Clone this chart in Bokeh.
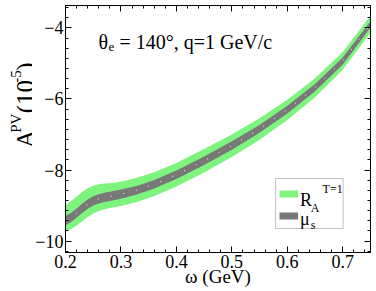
import numpy as np
from bokeh.plotting import figure
from bokeh.layouts import row
from bokeh.models import Range1d, FixedTicker, LinearAxis, Label, BoxAnnotation
from bokeh.core.properties import value
from bokeh.embed import file_html
from bokeh.resources import INLINE

# ---- data ----
omega = [0.20, 0.21, 0.22, 0.23, 0.24, 0.25, 0.26, 0.27, 0.28, 0.30,
         0.33, 0.36, 0.40, 0.45, 0.50, 0.55, 0.60, 0.65, 0.70, 0.75]
center = [-9.42, -9.33, -9.21, -9.08, -8.96, -8.87, -8.81, -8.77, -8.74, -8.68,
          -8.56, -8.40, -8.13, -7.74, -7.31, -6.84, -6.30, -5.68, -4.93, -3.90]
ra_hi = [-9.00, -8.88, -8.75, -8.62, -8.51, -8.44, -8.40, -8.38, -8.37, -8.33,
         -8.21, -8.06, -7.80, -7.41, -7.00, -6.54, -6.02, -5.42, -4.68, -3.66]
ra_lo = [-9.74, -9.66, -9.56, -9.44, -9.32, -9.22, -9.15, -9.10, -9.07, -9.01,
         -8.89, -8.73, -8.46, -8.07, -7.63, -7.15, -6.59, -5.95, -5.18, -4.13]
mus_hi = [-9.29, -9.20, -9.08, -8.95, -8.83, -8.74, -8.68, -8.64, -8.61, -8.55,
          -8.44, -8.28, -8.01, -7.62, -7.19, -6.73, -6.19, -5.58, -4.83, -3.81]
mus_lo = [-9.55, -9.46, -9.34, -9.21, -9.09, -9.00, -8.94, -8.90, -8.87, -8.81,
          -8.68, -8.52, -8.25, -7.86, -7.43, -6.95, -6.41, -5.78, -5.03, -3.99]

x_ticks = [0.2, 0.3, 0.4, 0.5, 0.6, 0.7]
y_ticks = [-10, -8, -6, -4]

GREEN = "#7DF47D"
GRAY = "#787878"
FONT = "Liberation Serif"

H = 291
LW = 32          # strip holding the rotated y-axis title
PW = 344

def dx(px):
    return 0.2 + (px - 58.3) / 566.7

def dy(py):
    return -4 - (py - 27.3) / 35.56

p = figure(width=PW, height=H,
           x_range=Range1d(0.2, 0.75), y_range=Range1d(-10.32, -3.37),
           output_backend="svg", toolbar_location=None,
           min_border_left=26, min_border_right=6,
           min_border_top=5, min_border_bottom=39)
p.grid.visible = False
p.outline_line_color = "black"
p.outline_line_width = 1

p.varea(x=omega, y1=ra_lo, y2=ra_hi, fill_color=GREEN)
p.varea(x=omega, y1=mus_lo, y2=mus_hi, fill_color=GRAY)
p.line(omega, center, line_color="white", line_dash="1 12", line_width=1)

xt = FixedTicker(ticks=x_ticks, minor_ticks=list(np.round(np.arange(0.2, 0.7501, 0.02), 3)))
yt = FixedTicker(ticks=y_ticks, minor_ticks=list(-10 + np.arange(-2, 26) * 2 / 7))

def style(ax, labels=True):
    ax.major_tick_in = 6
    ax.major_tick_out = 0
    ax.minor_tick_in = 3
    ax.minor_tick_out = 0
    ax.axis_line_color = "black"
    ax.major_tick_line_color = "black"
    ax.minor_tick_line_color = "black"
    ax.major_label_text_font = FONT
    ax.major_label_text_color = "black"
    ax.axis_label_text_font = FONT
    ax.axis_label_text_font_style = "normal"
    ax.axis_label_text_color = "black"
    if labels:
        ax.major_label_text_font_size = "18px"
        ax.major_label_standoff = 2
    else:
        ax.major_label_text_font_size = "1px"
        ax.major_label_standoff = 0

p.xaxis.ticker = xt
p.yaxis.ticker = yt
style(p.xaxis[0])
style(p.yaxis[0])
p.xaxis.axis_label = "\u03c9 (GeV)"
p.xaxis.axis_label_text_font_size = "19px"
p.xaxis.axis_label_standoff = -5

top = LinearAxis(ticker=xt)
style(top, labels=False)
top.major_label_overrides = {t: "" for t in x_ticks}
p.add_layout(top, "above")
right = LinearAxis(ticker=yt)
style(right, labels=False)
right.major_label_overrides = {t: "" for t in y_ticks}
p.add_layout(right, "right")

def lab(text, x, y, size, xo=0, yo=0):
    p.add_layout(Label(x=x, y=y, x_offset=xo, y_offset=yo,
                       text=text, text_font=FONT, text_font_size=size,
                       text_color="black", text_align="left",
                       text_baseline="alphabetic"))

# panel text
tx, ty = dx(92), dy(41.7)
lab("\u03b8", tx, ty, "20px")
lab("e", tx, ty, "13px", xo=10, yo=-5)
lab("= 140\u00b0, q=1 GeV/c", tx, ty, "20px", xo=21)

# legend
p.add_layout(BoxAnnotation(left=dx(273), right=dx(342), top=dy(178), bottom=dy(228),
                           fill_color="white", fill_alpha=1, line_color="#333333",
                           line_width=1, level="underlay"))
p.add_layout(BoxAnnotation(left=dx(277), right=dx(296), top=dy(190), bottom=dy(197),
                           fill_color=GREEN, fill_alpha=1, line_alpha=0, level="underlay"))
p.add_layout(BoxAnnotation(left=dx(277), right=dx(296), top=dy(212), bottom=dy(219),
                           fill_color=GRAY, fill_alpha=1, line_alpha=0, level="underlay"))
lab("R", dx(298), dy(200), "18px")
lab("A", dx(309), dy(208), "12px")
lab("T=1", dx(321), dy(189), "12px")
lab("\u03bc", dx(298), dy(219), "18px")
lab("s", dx(309), dy(225), "12px")

# ---- rotated y-axis title in its own strip (pixel coordinates) ----
yl = figure(width=LW, height=H, x_range=Range1d(0, LW), y_range=Range1d(0, H),
            output_backend="svg", toolbar_location=None,
            min_border=0, outline_line_color=None)
yl.axis.visible = False
yl.grid.visible = False

ang = np.pi / 2
pieces = [("A", 24.5, 168, "25px"), ("PV", 15.5, 150, "15px"),
          ("(10", 24.5, 127, "25px"), ("-5", 15.5, 91, "15px"),
          (")", 24.5, 77, "25px")]
for txt, xx, py, sz in pieces:
    yl.text(x=[xx], y=[H - py], text=[txt], angle=ang,
            text_font=value(FONT), text_font_size=sz, text_color="black",
            text_align="left", text_baseline="alphabetic")

open("out.html", "w").write(file_html(row(yl, p), INLINE))
